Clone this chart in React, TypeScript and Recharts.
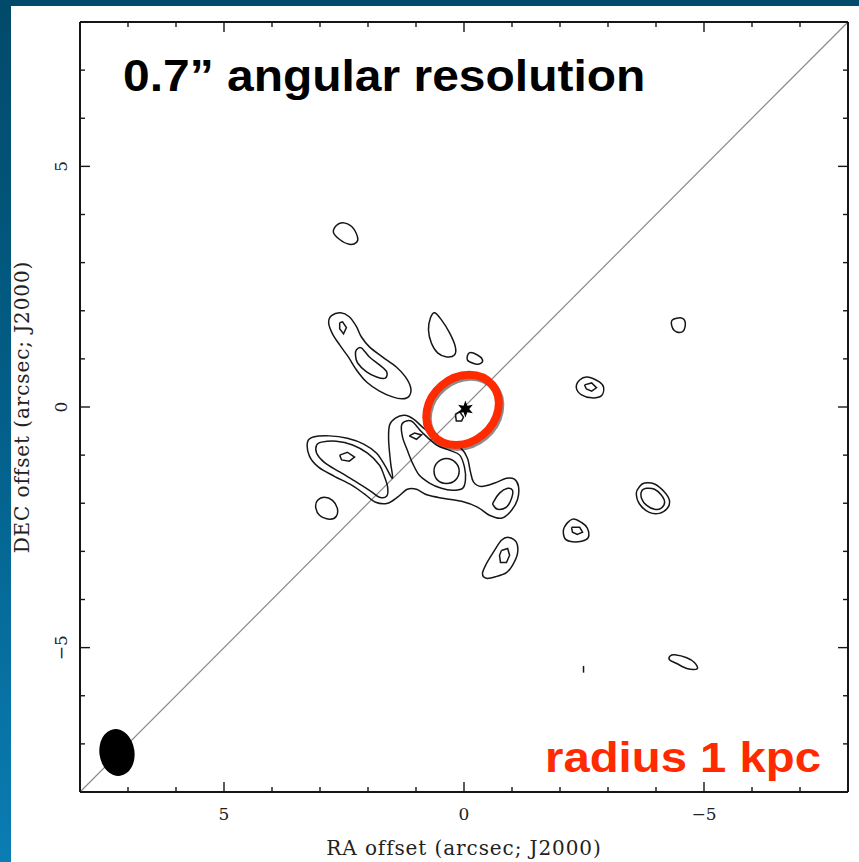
import React from "react";
import {
  ComposedChart,
  Line,
  XAxis,
  YAxis,
  ReferenceLine,
  ReferenceDot,
  Label,
} from "recharts";

type Pt = [number, number]; // [RA offset, DEC offset] in arcsec

// ---- contours (arcsec) ----
const NORTH_BLOB: Pt[] = [[2.53, 3.83], [2.34, 3.75], [2.22, 3.54], [2.24, 3.42], [2.39, 3.38], [2.59, 3.48], [2.72, 3.63], [2.66, 3.77]];

const NW_OUTER: Pt[] = [
  [2.76, 1.9], [2.57, 1.96], [2.39, 1.875], [2.24, 1.67], [2.14, 1.46], [1.97, 1.25], [1.7, 1.04], [1.41, 0.83],
  [1.22, 0.625], [1.11, 0.4], [1.14, 0.23], [1.28, 0.17], [1.49, 0.21], [1.76, 0.33], [2.03, 0.52], [2.24, 0.77],
  [2.41, 1.04], [2.59, 1.29], [2.74, 1.52], [2.82, 1.75],
];
const NW_INNER: Pt[] = [[2.24, 1.19], [2.14, 1.23], [1.97, 1.04], [1.76, 0.875], [1.61, 0.73], [1.64, 0.6], [1.82, 0.625], [2.03, 0.73], [2.22, 0.92], [2.26, 1.08]];
const NW_PEAK: Pt[] = [[2.59, 1.75], [2.53, 1.77], [2.45, 1.65], [2.51, 1.52], [2.59, 1.625]];

const N_BLOB: Pt[] = [[0.61, 1.96], [0.47, 1.81], [0.3, 1.54], [0.18, 1.25], [0.2, 1.08], [0.36, 1.04], [0.55, 1.125], [0.68, 1.33], [0.74, 1.6], [0.7, 1.85]];
const NE_SPOT: Pt[] = [[-0.11, 1.125], [-0.28, 1.08], [-0.385, 0.98], [-0.34, 0.9], [-0.22, 0.9], [-0.07, 0.98]];
const CORE_SPOT: Pt[] = [[0.18, -0.15], [0.09, -0.1], [0.01, -0.21], [0.05, -0.29], [0.16, -0.29]];

const SW_OUTER: Pt[] = [
  [3.26, -0.73], [3.14, -0.625], [2.8, -0.6], [2.43, -0.65], [2.09, -0.77], [1.82, -0.96], [1.64, -1.23], [1.49, -1.48],
  [1.53, -1.15], [1.57, -0.69], [1.55, -0.375], [1.43, -0.23], [1.24, -0.17], [1.05, -0.25], [0.84, -0.44], [0.59, -0.625],
  [0.3, -0.73], [0.07, -0.85], [-0.07, -1.06], [-0.135, -1.35], [-0.2, -1.56], [-0.36, -1.65], [-0.64, -1.58], [-0.885, -1.48],
  [-1.05, -1.5], [-1.135, -1.65], [-1.115, -1.92], [-0.97, -2.17], [-0.78, -2.31], [-0.53, -2.25], [-0.28, -2.08], [0.05, -1.96],
  [0.41, -1.9], [0.76, -1.83], [0.99, -1.71], [1.18, -1.71], [1.385, -1.875], [1.59, -2.0], [1.84, -1.98], [2.07, -1.81],
  [2.34, -1.625], [2.7, -1.44], [3.03, -1.25], [3.22, -1.02],
];
const SW_INNER_WEST: Pt[] = [
  [3.07, -0.79], [2.97, -0.73], [2.66, -0.71], [2.32, -0.79], [2.01, -0.96], [1.76, -1.21], [1.66, -1.44], [1.59, -1.67],
  [1.61, -1.85], [1.76, -1.875], [1.97, -1.73], [2.24, -1.56], [2.59, -1.35], [2.91, -1.15], [3.07, -0.96],
];
const SW_PEAK_WEST: Pt[] = [[2.59, -1.0], [2.43, -0.94], [2.28, -1.04], [2.39, -1.125], [2.55, -1.1]];
const SW_INNER_EAST: Pt[] = [
  [1.3, -0.375], [1.2, -0.29], [1.07, -0.31], [0.86, -0.54], [0.57, -0.79], [0.3, -0.9], [0.09, -1.0], [-0.01, -1.25],
  [-0.03, -1.52], [0.03, -1.69], [0.24, -1.73], [0.47, -1.69], [0.72, -1.58], [0.93, -1.42], [1.07, -1.17], [1.18, -0.9],
  [1.28, -0.625],
];
const SW_PEAK_MID: Pt[] = [[1.14, -0.6], [1.03, -0.54], [0.885, -0.58], [0.99, -0.67]];
const SW_PEAK_EAST: Pt[] = [[0.365, -1.07], [0.18, -1.15], [0.1, -1.33], [0.18, -1.52], [0.365, -1.59], [0.55, -1.52], [0.625, -1.33], [0.55, -1.15]];
const HOOK_INNER: Pt[] = [[-0.61, -1.98], [-0.74, -1.79], [-0.91, -1.69], [-1.01, -1.73], [-0.99, -1.9], [-0.885, -2.08], [-0.7, -2.125], [-0.61, -2.04]];

const SW_SPOT: Pt[] = [[2.91, -1.875], [2.74, -1.94], [2.64, -2.1], [2.66, -2.27], [2.8, -2.33], [3.01, -2.25], [3.09, -2.08], [3.05, -1.94]];
const S_OUTER: Pt[] = [[-0.93, -2.71], [-1.09, -2.81], [-1.115, -3.04], [-1.01, -3.29], [-0.885, -3.44], [-0.68, -3.52], [-0.47, -3.56], [-0.385, -3.46], [-0.47, -3.25], [-0.635, -2.98], [-0.78, -2.77]];
const S_INNER: Pt[] = [[-0.78, -2.98], [-0.91, -2.94], [-0.95, -3.08], [-0.885, -3.23], [-0.76, -3.23], [-0.74, -3.08]];
const SE_OUTER: Pt[] = [[-2.26, -2.33], [-2.45, -2.4], [-2.57, -2.52], [-2.59, -2.71], [-2.45, -2.79], [-2.2, -2.79], [-2.09, -2.71], [-2.09, -2.5]];
const SE_INNER: Pt[] = [[-2.24, -2.5], [-2.41, -2.5], [-2.47, -2.6], [-2.36, -2.65], [-2.26, -2.6]];
const E_SPOT: Pt[] = [[-4.34, 1.81], [-4.53, 1.85], [-4.61, 1.75], [-4.57, 1.58], [-4.43, 1.56], [-4.34, 1.65]];
const E_OUTER: Pt[] = [[-2.41, 0.56], [-2.57, 0.625], [-2.82, 0.52], [-2.91, 0.4], [-2.86, 0.23], [-2.66, 0.19], [-2.45, 0.25], [-2.34, 0.4]];
const E_INNER: Pt[] = [[-2.51, 0.46], [-2.66, 0.5], [-2.76, 0.4], [-2.66, 0.33], [-2.55, 0.375]];
const RING_OUTER: Pt[] = [[-3.76, -1.58], [-3.97, -1.6], [-4.18, -1.77], [-4.28, -1.94], [-4.24, -2.1], [-4.07, -2.21], [-3.86, -2.19], [-3.66, -2.02], [-3.59, -1.79], [-3.66, -1.65]];
const RING_INNER: Pt[] = [[-3.8, -1.69], [-3.97, -1.71], [-4.11, -1.83], [-4.18, -1.98], [-4.11, -2.1], [-3.97, -2.125], [-3.8, -2.04], [-3.7, -1.9], [-3.7, -1.75]];
const FAR_SE: Pt[] = [[-4.39, -5.15], [-4.64, -5.21], [-4.8, -5.31], [-4.86, -5.44], [-4.66, -5.44], [-4.43, -5.33], [-4.28, -5.25], [-4.3, -5.17]];
const TINY_DASH: Pt[] = [[-2.49, -5.38], [-2.49, -5.52]];

// smooth closed loops
const SMOOTH_CONTOURS: Pt[][] = [
  NORTH_BLOB, NW_OUTER, NW_INNER, N_BLOB, NE_SPOT, SW_OUTER, SW_INNER_WEST, SW_INNER_EAST, SW_PEAK_EAST,
  HOOK_INNER, SW_SPOT, S_OUTER, SE_OUTER, E_SPOT, E_OUTER, RING_OUTER, RING_INNER, FAR_SE,
];
// small peak contours, angular in the map
const ANGULAR_CONTOURS: Pt[][] = [NW_PEAK, CORE_SPOT, SW_PEAK_WEST, SW_PEAK_MID, S_INNER, SE_INNER, E_INNER];
const OPEN_CONTOURS: Pt[][] = [TINY_DASH];

const AXIS_TICKS = [-7, -6, -5, -4, -3, -2, -1, 0, 1, 2, 3, 4, 5, 6, 7];
const LABELLED_TICKS = [-5, 0, 5];
const DOMAIN: [number, number] = [-8, 8];

const SOURCE = { ra: -0.03, dec: -0.04 };
const BEAM = { ra: 7.23, dec: -7.18, minor: 0.73, major: 0.98, pa: -8 };
const RADIUS_1KPC = { ra: 0.03, dec: -0.06, major: 1.62, minor: 1.34, pa: -40 };

const W = 859;
const H = 862;
const PLOT_W = 768;
const PX = PLOT_W / 16; // px per arcsec

const SERIF = '"DejaVu Serif", "Liberation Serif", serif';
const SANS = '"Liberation Sans", Arial, Helvetica, sans-serif';
const INK = "#161616";

const toRows = (pts: Pt[], close: boolean) =>
  (close ? [...pts, pts[0]] : pts).map(([x, y]) => ({ x, y }));

const fmt = (v: number) => (v < 0 ? `\u2212${Math.abs(v)}` : `${v}`);

// closed Catmull-Rom style curve for contour loops
const closedCardinal = (context: any) => {
  let pts: number[][] = [];
  return {
    areaStart() {},
    areaEnd() {},
    lineStart() {
      pts = [];
    },
    point(x: number, y: number) {
      pts.push([+x, +y]);
    },
    lineEnd() {
      let p = pts;
      const last = p[p.length - 1];
      if (p.length > 2 && last[0] === p[0][0] && last[1] === p[0][1]) p = p.slice(0, -1);
      const n = p.length;
      context.moveTo(p[0][0], p[0][1]);
      const k = 1 / 6;
      for (let i = 0; i < n; i++) {
        const p0 = p[(i - 1 + n) % n];
        const p1 = p[i];
        const p2 = p[(i + 1) % n];
        const p3 = p[(i + 2) % n];
        context.bezierCurveTo(
          p1[0] + (p2[0] - p0[0]) * k,
          p1[1] + (p2[1] - p0[1]) * k,
          p2[0] - (p3[0] - p1[0]) * k,
          p2[1] - (p3[1] - p1[1]) * k,
          p2[0],
          p2[1]
        );
      }
      context.closePath();
    },
  };
};

function AxisTick(props: any) {
  const { x, y, payload, side } = props;
  const v = payload.value as number;
  const big = LABELLED_TICKS.includes(v);
  const len = big ? 10 : 5;
  const ln = { stroke: INK, strokeWidth: 1.4 };
  const txt = { fontFamily: SERIF, fontSize: 17, fill: "#222" };
  if (side === "bottom")
    return (
      <g>
        <line x1={x} y1={y} x2={x} y2={y - len} {...ln} />
        {big && (
          <text x={x} y={y + 22} textAnchor="middle" dominantBaseline="central" {...txt}>
            {fmt(v)}
          </text>
        )}
      </g>
    );
  if (side === "top") return <line x1={x} y1={y} x2={x} y2={y + len} {...ln} />;
  if (side === "right") return <line x1={x} y1={y} x2={x - len} y2={y} {...ln} />;
  return (
    <g>
      <line x1={x} y1={y} x2={x + len} y2={y} {...ln} />
      {big && (
        <text
          x={x - 19}
          y={y}
          textAnchor="middle"
          dominantBaseline="central"
          transform={`rotate(-90 ${x - 19} ${y})`}
          {...txt}
        >
          {fmt(v)}
        </text>
      )}
    </g>
  );
}

function Star(p: any) {
  const { cx, cy } = p;
  const pts: string[] = [];
  for (let i = 0; i < 12; i++) {
    const r = i % 2 === 0 ? 8.5 : 3.8;
    const a = (Math.PI / 6) * i - Math.PI / 2;
    pts.push(`${cx + r * Math.cos(a)},${cy + r * Math.sin(a)}`);
  }
  return <polygon points={pts.join(" ")} fill="#000" />;
}

function Beam(p: any) {
  const { cx, cy } = p;
  return (
    <ellipse
      cx={cx}
      cy={cy}
      rx={(BEAM.minor / 2) * PX}
      ry={(BEAM.major / 2) * PX}
      transform={`rotate(${BEAM.pa} ${cx} ${cy})`}
      fill="#000"
    />
  );
}

function KpcRing(p: any) {
  const { cx, cy } = p;
  const rx = (RADIUS_1KPC.major / 2) * PX;
  const ry = (RADIUS_1KPC.minor / 2) * PX;
  return (
    <g>
      <ellipse
        cx={cx + 1.5}
        cy={cy + 2}
        rx={rx}
        ry={ry}
        transform={`rotate(${RADIUS_1KPC.pa} ${cx + 1.5} ${cy + 2})`}
        fill="none"
        stroke="rgba(0,0,0,0.45)"
        strokeWidth={8}
      />
      <ellipse
        cx={cx}
        cy={cy}
        rx={rx}
        ry={ry}
        transform={`rotate(${RADIUS_1KPC.pa} ${cx} ${cy})`}
        fill="none"
        stroke="#ff2a00"
        strokeWidth={8}
      />
    </g>
  );
}

const contourLine = (key: string, pts: Pt[], close: boolean, type: any) => (
  <Line
    key={key}
    data={toRows(pts, close)}
    dataKey="y"
    type={type}
    stroke={INK}
    strokeWidth={1.5}
    dot={false}
    activeDot={false}
    legendType="none"
    isAnimationActive={false}
  />
);

export default function App() {
  const axisLine = { stroke: INK, strokeWidth: 2 };
  return (
    <div
      style={{
        position: "absolute",
        left: 0,
        top: 0,
        width: W,
        height: H,
        overflow: "hidden",
        background: "linear-gradient(180deg, #024a6a 0%, #03608a 50%, #0a7db3 100%)",
      }}
    >
      <div style={{ position: "absolute", left: 11, top: 6, width: W - 11, height: H - 6, background: "#fff" }} />
      <div style={{ position: "absolute", left: 0, top: 0 }}>
        <ComposedChart width={W} height={H} margin={{ top: 21, right: 10, bottom: 0, left: 0 }}>
          <XAxis
            xAxisId={0}
            type="number"
            dataKey="x"
            domain={DOMAIN}
            allowDataOverflow
            reversed
            ticks={AXIS_TICKS}
            interval={0}
            tickSize={0}
            tickMargin={0}
            tickLine={false}
            axisLine={axisLine}
            height={70}
            tick={(p: any) => <AxisTick {...p} side="bottom" />}
          >
            <Label
              content={(lp: any) => {
                const vb = lp.viewBox;
                return (
                  <text
                    x={vb.x + vb.width / 2}
                    y={855}
                    textAnchor="middle"
                    fontFamily={SERIF}
                    fontSize={20}
                    letterSpacing={0.9}
                    fill="#222"
                  >
                    RA offset (arcsec; J2000)
                  </text>
                );
              }}
            />
          </XAxis>
          <XAxis
            xAxisId="top"
            orientation="top"
            type="number"
            dataKey="x"
            domain={DOMAIN}
            allowDataOverflow
            reversed
            ticks={AXIS_TICKS}
            interval={0}
            tickSize={0}
            tickMargin={0}
            tickLine={false}
            axisLine={axisLine}
            height={1}
            tick={(p: any) => <AxisTick {...p} side="top" />}
          />
          <YAxis
            yAxisId={0}
            type="number"
            dataKey="y"
            domain={DOMAIN}
            allowDataOverflow
            ticks={AXIS_TICKS}
            interval={0}
            tickSize={0}
            tickMargin={0}
            tickLine={false}
            axisLine={axisLine}
            width={80}
            tick={(p: any) => <AxisTick {...p} side="left" />}
          >
            <Label
              content={(lp: any) => {
                const vb = lp.viewBox;
                const cx = 22;
                const cy = vb.y + vb.height / 2;
                return (
                  <text
                    x={cx}
                    y={cy}
                    textAnchor="middle"
                    dominantBaseline="central"
                    transform={`rotate(-90 ${cx} ${cy})`}
                    fontFamily={SERIF}
                    fontSize={20}
                    letterSpacing={0.9}
                    fill="#222"
                  >
                    DEC offset (arcsec; J2000)
                  </text>
                );
              }}
            />
          </YAxis>
          <YAxis
            yAxisId="right"
            orientation="right"
            type="number"
            dataKey="y"
            domain={DOMAIN}
            allowDataOverflow
            ticks={AXIS_TICKS}
            interval={0}
            tickSize={0}
            tickMargin={0}
            tickLine={false}
            axisLine={axisLine}
            width={1}
            tick={(p: any) => <AxisTick {...p} side="right" />}
          />

          <ReferenceLine
            segment={[{ x: 8, y: -8 }, { x: -8, y: 8 }]}
            stroke="#8a8a8a"
            strokeWidth={1.2}
            ifOverflow="visible"
          />

          {SMOOTH_CONTOURS.map((c, i) => contourLine("s" + i, c, true, closedCardinal))}
          {ANGULAR_CONTOURS.map((c, i) => contourLine("a" + i, c, true, "linear"))}
          {OPEN_CONTOURS.map((c, i) => contourLine("o" + i, c, false, "linear"))}

          <ReferenceDot x={BEAM.ra} y={BEAM.dec} r={1} shape={Beam} ifOverflow="visible" />
          <ReferenceDot x={SOURCE.ra} y={SOURCE.dec} r={1} shape={Star} ifOverflow="visible" />
          <ReferenceDot x={RADIUS_1KPC.ra} y={RADIUS_1KPC.dec} r={1} shape={KpcRing} ifOverflow="visible" />
        </ComposedChart>
      </div>
      <div
        style={{
          position: "absolute",
          left: 123,
          top: 54,
          fontFamily: SANS,
          fontWeight: 700,
          fontSize: 44,
          lineHeight: "44px",
          color: "#000",
          whiteSpace: "nowrap",
          transform: "scaleX(1.09)",
          transformOrigin: "left top",
        }}
      >
        0.7” angular resolution
      </div>
      <div
        style={{
          position: "absolute",
          left: 545,
          top: 736,
          fontFamily: SANS,
          fontWeight: 700,
          fontSize: 43,
          lineHeight: "43px",
          color: "#ff2a00",
          whiteSpace: "nowrap",
          transform: "scaleX(1.1)",
          transformOrigin: "left top",
        }}
      >
        radius 1 kpc
      </div>
    </div>
  );
}
